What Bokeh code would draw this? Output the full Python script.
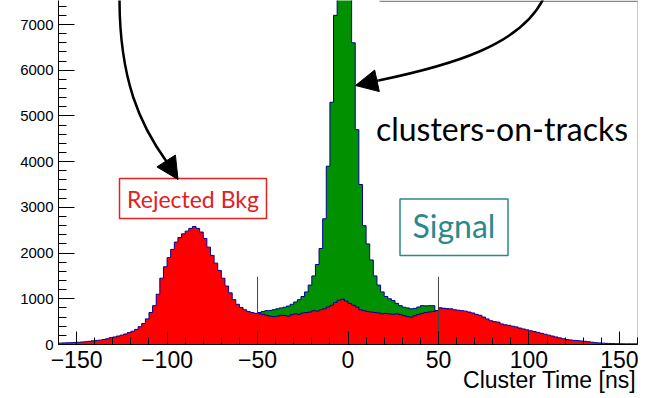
import numpy as np
from bokeh.plotting import figure
from bokeh.models import Span, Arrow, NormalHead, FixedTicker, LinearAxis, CustomJSTickFormatter
from bokeh.core.properties import value
from bokeh.embed import file_html
from bokeh.resources import INLINE

# ---------------- data (2 ns bins) ----------------
BIN_WIDTH = 2
RED_START = -160   # rejected background: all clusters not on tracks
red_counts = [
    30, 35, 38, 40, 45, 48, 55, 60, 70, 80,
    90, 95, 110, 125, 150, 165, 185, 205, 230, 260,
    290, 330, 390, 460, 560, 700, 850, 1100, 1450, 1700,
    1900, 2080, 2240, 2340, 2420, 2480, 2540, 2580, 2540, 2460,
    2320, 2130, 1950, 1780, 1620, 1450, 1280, 1130, 980, 880,
    810, 760, 720, 700, 680, 670, 660, 640, 620, 610,
    620, 640, 635, 620, 650, 670, 660, 690, 700, 710,
    740, 730, 760, 780, 820, 860, 920, 970, 990, 950,
    900, 860, 820, 760, 740, 720, 710, 700, 690, 670,
    680, 670, 660, 670, 650, 630, 610, 600, 630, 660,
    680, 700, 710, 720, 740, 800, 790, 780, 780, 760,
    750, 740, 730, 710, 690, 660, 640, 600, 560, 520,
    500, 490, 450, 430, 420, 400, 385, 360, 340, 320,
    300, 285, 265, 245, 225, 205, 185, 165, 145, 125,
    110, 100, 90, 85, 78, 70, 60, 50, 40, 35,
    30, 25, 22, 20, 18, 16, 15, 15, 14, 14,
]
GREEN_START = -52  # clusters-on-tracks + background (visible part)
green_counts = [
    680, 700, 720, 740, 745, 760, 780, 800, 815, 840,
    880, 930, 980, 1050, 1150, 1300, 1500, 1750, 2100, 2750,
    3900, 5300, 7200, 9500, 11500, 11200, 9000, 6600, 4700, 3500,
    2600, 2200, 1850, 1500, 1300, 1150, 1050, 1000, 960, 900,
    850, 815, 800, 780, 790, 820, 850, 845, 850, 850,
    740, 800, 790, 780,
]
cut_positions = [-50, 50]
cut_height = 1480
x_ticks = [-150, -100, -50, 0, 50, 100, 150]
x_tick_labels = ["\u2212150", "\u2212100", "\u221250", "0", "50", "100", "150"]
y_ticks = [0, 1000, 2000, 3000, 4000, 5000, 6000, 7000]
x_title = "Cluster Time [ns]"

# ---------------- figure ----------------
W, H = 646, 398
FL, FR, FB, FT = 58.0, 637.0, 344.0, 0.0
X0, X1 = -160, 160
Y0, Y1 = 0, 7525
p = figure(width=W, height=H, x_range=(X0, X1), y_range=(Y0, Y1),
           output_backend="svg", toolbar_location=None,
           min_border_left=int(FL), min_border_right=int(W - FR), min_border_top=0,
           min_border_bottom=int(H - FB))
p.xgrid.visible = False
p.ygrid.visible = False
p.outline_line_color = None
p.background_fill_color = "white"
p.border_fill_color = "white"

def edges_of(start, counts):
    e = [start + i * BIN_WIDTH for i in range(len(counts) + 1)]
    return e, list(counts) + [counts[-1]]

ge, gv = edges_of(GREEN_START, green_counts)
re_, rv = edges_of(RED_START, red_counts)

NAVY = "#000099"
p.varea_step(x=ge, y1=[0] * len(ge), y2=gv, step_mode="after", fill_color="#009000")
p.step(x=ge, y=gv, mode="after", line_color=NAVY, line_width=1)
p.varea_step(x=re_, y1=[0] * len(re_), y2=rv, step_mode="after", fill_color="#ff0000")
p.step(x=re_, y=rv, mode="after", line_color=NAVY, line_width=1)

# cut lines
p.segment(x0=cut_positions, y0=[0, 0], x1=cut_positions, y1=[cut_height] * 2,
          line_color="#444444", line_width=1)

# pixel (reference) -> data helpers for annotations
def dx(px):
    return X0 + (px - FL) * (X1 - X0) / (FR - FL)
def dy(py):
    return Y0 + (FB - py) * (Y1 - Y0) / (FB - FT)

# right frame edge and the cut-off box edge at the top
p.add_layout(Span(location=dx(637.5), dimension="height", line_color="#222222", line_width=1))
p.segment(x0=[dx(379)], y0=[dy(0.7)], x1=[dx(640)], y1=[dy(0.7)], line_color="#888888", line_width=1.5)

# axes
xa = p.xaxis[0]
xa.ticker = FixedTicker(ticks=x_ticks, minor_ticks=[v for v in range(-160, 161, 10) if v not in x_ticks])
xa.major_label_overrides = {t: l for t, l in zip(x_ticks, x_tick_labels)}
xa.major_label_text_font = "Liberation Sans"
xa.major_label_text_font_size = "23px"
xa.major_label_text_color = "black"
xa.major_label_standoff = 6
xa.major_tick_in = 13
xa.major_tick_out = 0
xa.minor_tick_in = 7
xa.minor_tick_out = 0
xa.axis_line_color = "black"
xa.major_tick_line_color = "black"
xa.minor_tick_line_color = "black"

ya = p.yaxis[0]
ya.ticker = FixedTicker(ticks=y_ticks, minor_ticks=[v for v in range(0, 7600, 200) if v not in y_ticks])
ya.major_label_text_font = "Liberation Sans"
ya.major_label_text_font_size = "15px"
ya.major_label_text_color = "black"
ya.major_label_standoff = 5
ya.major_tick_in = 16
ya.major_tick_out = 0
ya.minor_tick_in = 8
ya.minor_tick_out = 0
ya.axis_line_color = "black"
ya.major_tick_line_color = "black"
ya.minor_tick_line_color = "black"

# x-axis title, right-aligned at the end of the axis (second, tick-less axis)
title_axis = LinearAxis(ticker=FixedTicker(ticks=[round(dx(549), 1)], minor_ticks=[]),
                        formatter=CustomJSTickFormatter(code="return %r" % x_title),
                        axis_line_color=None, major_tick_line_color=None, minor_tick_line_color=None,
                        major_label_standoff=-10, major_label_text_font="Liberation Sans",
                        major_label_text_font_size="23px", major_label_text_color="black")
p.add_layout(title_axis, "below")

# annotation boxes
RED_T = "#e3201c"
TEAL = "#2a8a8a"
p.quad(left=[dx(119)], right=[dx(266)], bottom=[dy(218)], top=[dy(178)],
       fill_color="white", line_color=RED_T, line_width=1.5)
p.text(x=[dx(192.5)], y=[dy(198)], text=["Rejected Bkg"], text_align="center",
       text_baseline="middle", text_font=value("Lato"), text_font_size="23px", text_color=RED_T)

p.quad(left=[dx(399.5)], right=[dx(507.5)], bottom=[dy(255)], top=[dy(198.5)],
       fill_color="white", line_color=TEAL, line_width=1.5)
p.text(x=[dx(453.5)], y=[dy(225)], text=["Signal"], text_align="center",
       text_baseline="middle", text_font=value("Lato"), text_font_size="32px", text_color=TEAL)

p.text(x=[dx(501.5)], y=[dy(128)], text=["clusters-on-tracks"], text_align="center",
       text_baseline="alphabetic", text_font=value("Lato"), text_font_size="32px", text_color="black")

# curved arrows
p.bezier(x0=[dx(119)], y0=[dy(-2)], x1=[dx(166)], y1=[dy(161)],
         cx0=[dx(119)], cy0=[dy(80)], cx1=[dx(140)], cy1=[dy(125)],
         line_color="black", line_width=2.5)
p.add_layout(Arrow(end=NormalHead(size=22, fill_color="black", line_color="black"),
                   x_start=dx(166), y_start=dy(161), x_end=dx(177.5), y_end=dy(179),
                   line_color="black", line_width=2.5))

p.bezier(x0=[dx(543)], y0=[dy(-2)], x1=[dx(378)], y1=[dy(80)],
         cx0=[dx(520)], cy0=[dy(45)], cx1=[dx(450)], cy1=[dy(65)],
         line_color="black", line_width=2.5)
p.add_layout(Arrow(end=NormalHead(size=22, fill_color="black", line_color="black"),
                   x_start=dx(378), y_start=dy(80), x_end=dx(355), y_end=dy(85),
                   line_color="black", line_width=2.5))

open("out.html", "w").write(file_html(p, INLINE))
